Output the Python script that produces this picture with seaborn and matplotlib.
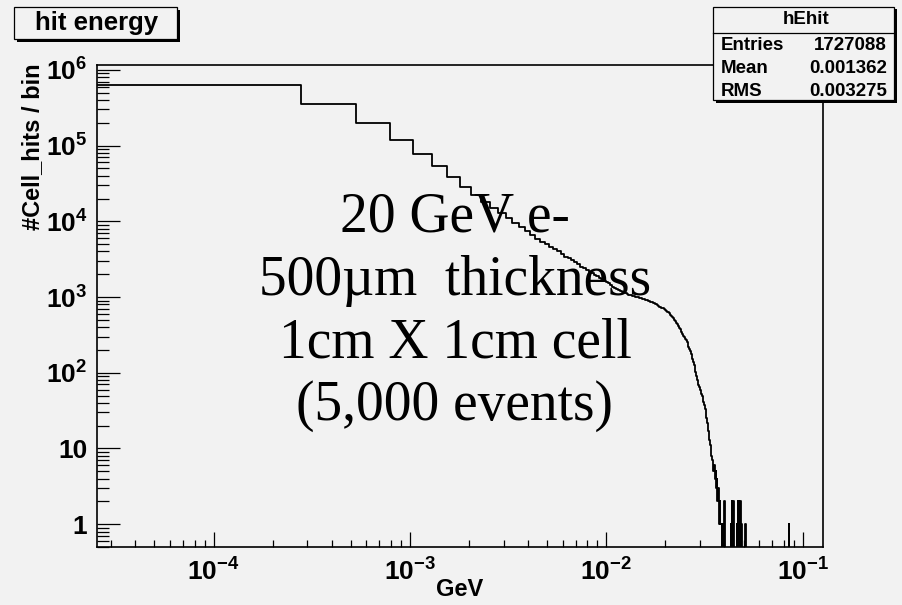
import numpy as np
import pandas as pd
import matplotlib
matplotlib.use("Agg")
import matplotlib.pyplot as plt
import seaborn as sns
from matplotlib.patches import Rectangle
from matplotlib.ticker import FixedLocator, FixedFormatter, LogLocator, NullFormatter

# ---------------- data ----------------
bin_start = 2.55e-5      # GeV, low edge of first bin
bin_width = 2.54e-4      # GeV
n_bins = 500

# counts of bins 0..201
counts_head = [
    640000, 356000, 198000, 119000, 76600, 54000, 38300, 28700, 22000, 18200,
    15100, 12900, 11000, 9500, 8500, 7400, 6500, 5900, 5400, 5000,
    4630, 4300, 4000, 3700, 3420, 3230, 3050, 2880, 2700, 2520,
    2400, 2290, 2170, 2060, 1960, 1880, 1800, 1720, 1650, 1580,
    1510, 1440, 1370, 1330, 1290, 1250, 1210, 1180, 1150, 1120,
    1095, 1070, 1055, 1040, 1025, 1010, 1000, 990, 975, 960,
    945, 930, 916, 905, 893, 880, 868, 853, 838, 822,
    805, 785, 767, 748, 736, 722, 711, 695, 678, 660,
    642, 625, 607, 588, 570, 550, 528, 505, 482, 458,
    440, 420, 395, 378, 362, 345, 328, 310, 295, 282,
    268, 252, 236, 220, 205, 192, 178, 165, 153, 140,
    127, 115, 102, 91, 80, 74, 69, 64, 60, 56,
    53, 50, 45, 41, 37, 33, 29, 25, 22, 19,
    17, 16, 13, 11, 10, 8, 7, 7, 5, 6,
    5, 4, 5, 3, 4, 2, 3, 2, 1, 2,
    1, 1, 0, 1, 0, 0, 0, 2, 0, 0,
    0, 0, 0, 0, 0, 0, 0, 0, 0, 1,
    0, 2, 1, 0, 2, 1, 0, 0, 0, 0,
    0, 0, 1, 0, 2, 1, 2, 0, 1, 2,
    1, 0, 1, 0, 0, 0, 0, 0, 0, 0,
    0, 1,
]
isolated_bins = [336]
isolated_counts = [1]

x_tick_values = [1e-4, 1e-3, 1e-2, 1e-1]
x_tick_labels = [r"$10^{-4}$", r"$10^{-3}$", r"$10^{-2}$", r"$10^{-1}$"]
y_tick_values = [1, 10, 1e2, 1e3, 1e4, 1e5, 1e6]
y_tick_labels = ["1", "10", r"$10^{2}$", r"$10^{3}$", r"$10^{4}$", r"$10^{5}$", r"$10^{6}$"]

stats_rows = [("Entries", "1727088"), ("Mean", "0.001362"), ("RMS", "0.003275")]
note_lines = ["20 GeV e-", "500\u00b5m  thickness", "1cm X 1cm cell", "(5,000 events)"]

# ---------------- build histogram table ----------------
counts = np.zeros(n_bins)
counts[:len(counts_head)] = counts_head
counts[isolated_bins] = isolated_counts
edges = bin_start + bin_width * np.arange(n_bins + 1)
ymin, ymax = 0.5, 1.16e6
xmin, xmax = 2.55e-5, 0.127
plot_vals = np.where(counts > 0, counts, 1e-3)
df = pd.DataFrame({"GeV": edges, "hits": np.append(plot_vals, plot_vals[-1])})

# ---------------- style ----------------
BG = "#f2f2f2"
W, H = 902, 605
plt.rcParams["font.family"] = ["Liberation Sans", "DejaVu Sans"]
plt.rcParams["mathtext.fontset"] = "custom"
plt.rcParams["mathtext.rm"] = "Liberation Sans:bold"
plt.rcParams["mathtext.it"] = "Liberation Sans:bold"
plt.rcParams["mathtext.bf"] = "Liberation Sans:bold"
plt.rcParams["mathtext.sf"] = "Liberation Sans:bold"

fig = plt.figure(figsize=(W / 100, H / 100), dpi=100, facecolor=BG)

def fx(p):
    return p / W

def fy(p):
    return 1 - p / H

L, R, T, B = 97, 823, 65, 547
ax = fig.add_axes([fx(L), fy(B), (R - L) / W, (B - T) / H], facecolor=BG)

sns.lineplot(data=df, x="GeV", y="hits", drawstyle="steps-post", estimator=None,
             sort=False, color="black", linewidth=1.3, ax=ax)
ax.set_xscale("log")
ax.set_yscale("log")
ax.set_xlim(xmin, xmax)
ax.set_ylim(ymin, ymax)

for s in ax.spines.values():
    s.set_linewidth(1.2)
    s.set_color("black")

ax.xaxis.set_major_locator(FixedLocator(x_tick_values))
ax.xaxis.set_major_formatter(FixedFormatter(x_tick_labels))
ax.xaxis.set_minor_locator(LogLocator(base=10, subs=np.arange(2, 10), numticks=20))
ax.xaxis.set_minor_formatter(NullFormatter())
ax.yaxis.set_major_locator(FixedLocator(y_tick_values))
ax.yaxis.set_major_formatter(FixedFormatter(y_tick_labels))
ax.yaxis.set_minor_locator(LogLocator(base=10, subs=np.arange(2, 10), numticks=20))
ax.yaxis.set_minor_formatter(NullFormatter())

ax.tick_params(axis="x", which="major", direction="in", length=10.5, width=0.9,
               pad=8, labelsize=19)
ax.tick_params(axis="x", which="minor", direction="in", length=5, width=0.9)
ax.tick_params(axis="y", which="major", direction="in", length=16.5, width=0.9,
               pad=7, labelsize=19)
ax.tick_params(axis="y", which="minor", direction="in", length=8.5, width=0.9)
for lab in ax.get_xticklabels() + ax.get_yticklabels():
    lab.set_fontweight("bold")

ax.set_xlabel("GeV", fontsize=17, fontweight="bold")
ax.xaxis.set_label_coords(0.5, (B - 578) / (B - T))
ax.set_ylabel("#Cell_hits / bin", fontsize=17, fontweight="bold", loc="top")
ax.yaxis.set_label_coords((44 - L) / (R - L), (B - 63) / (B - T))

# ---------------- big annotation ----------------
for line, base in zip(note_lines, [232, 295, 358, 420]):
    fig.text(fx(455), fy(base), line, ha="center", va="baseline",
             fontsize=40, family=["Liberation Serif", "DejaVu Serif"], color="black")

# ---------------- title box ----------------
def pave(x0, y0, x1, y1, shadow=2.5):
    fig.patches.append(Rectangle((fx(x0 + shadow), fy(y1 + shadow)), (x1 - x0) / W,
                                 (y1 - y0) / H, transform=fig.transFigure,
                                 facecolor="black", edgecolor="none", zorder=5))
    fig.patches.append(Rectangle((fx(x0), fy(y1)), (x1 - x0) / W, (y1 - y0) / H,
                                 transform=fig.transFigure, facecolor=BG,
                                 edgecolor="black", linewidth=0.9, zorder=6))

pave(14, 7, 177, 39)
fig.text(fx(97), fy(23), "hit energy", ha="center", va="center", fontsize=18.5,
         fontweight="bold", zorder=7)

# ---------------- stats box ----------------
pave(713, 7, 894, 100)
fig.add_artist(plt.Line2D([fx(713), fx(894)], [fy(32.5), fy(32.5)],
                          transform=fig.transFigure, color="black", linewidth=0.9, zorder=7))
fig.text(fx(806), fy(20), "hEhit", ha="center", va="center", fontsize=13.5,
         fontweight="bold", zorder=7)
for (name, val), yc in zip(stats_rows, [45, 68.5, 91]):
    fig.text(fx(721), fy(yc), name, ha="left", va="center", fontsize=13.5,
             fontweight="bold", zorder=7)
    fig.text(fx(887), fy(yc), val, ha="right", va="center", fontsize=13.5,
             fontweight="bold", zorder=7)

fig.savefig("out.png", dpi=100, facecolor=BG)
